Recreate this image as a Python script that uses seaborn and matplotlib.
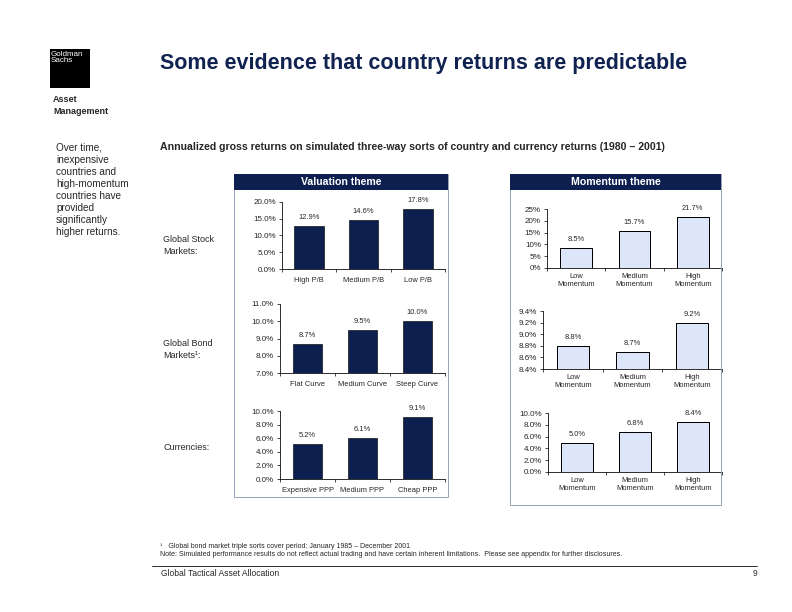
import matplotlib
matplotlib.use('Agg')
import matplotlib.pyplot as plt
import seaborn as sns
from matplotlib.patches import Rectangle
from matplotlib.lines import Line2D
from matplotlib.ticker import FuncFormatter

# data
val_stock_cats = ['High P/B', 'Medium P/B', 'Low P/B']
val_stock = [12.9, 14.6, 17.8]
val_bond_cats = ['Flat Curve', 'Medium Curve', 'Steep Curve']
val_bond = [8.7, 9.5, 10.0]
val_fx_cats = ['Expensive PPP', 'Medium PPP', 'Cheap PPP']
val_fx = [5.2, 6.1, 9.1]
mom_cats = ['Low\nMomentum', 'Medium\nMomentum', 'High\nMomentum']
mom_stock = [8.5, 15.7, 21.7]
mom_bond = [8.8, 8.7, 9.2]
mom_fx = [5.0, 6.8, 8.4]

side_lines = ['Over time,', 'inexpensive', 'countries and', 'high-momentum',
              'countries have', 'provided', 'significantly', 'higher returns.']

NAVY = '#0c1f4f'
LIGHT = '#dce6f8'
BORDER = '#9aa4bc'

sns.set_theme(style='white')
plt.rcParams['font.family'] = ['Liberation Sans', 'DejaVu Sans']

W, H = 792, 612
fig = plt.figure(figsize=(11, 8.5), dpi=72)


def fx(x):
    return x / W


def fy(y):
    return 1 - y / H


def px_axes(x0, y0, x1, y1):
    return fig.add_axes([fx(x0), fy(y1), fx(x1 - x0), (y1 - y0) / H])


def ftext(x, y, s, **kw):
    fig.text(fx(x), fy(y), s, **kw)


def bar_panel(box, cats, vals, ylim, yticks, fmt, color, lw, pad=8):
    ax = px_axes(*box)
    sns.barplot(x=cats, y=vals, ax=ax, color=color, width=0.54,
                edgecolor='black', linewidth=lw, saturation=1)
    ax.set_xlim(-0.5, 2.5)
    ax.set_ylim(*ylim)
    ax.set_yticks(yticks)
    ax.yaxis.set_major_formatter(FuncFormatter(lambda v, p: fmt.format(v)))
    ax.set_xticks([-0.5, 0.5, 1.5, 2.5], minor=True)
    ax.tick_params(axis='x', which='major', length=0, labelsize=7.5, pad=pad)
    ax.tick_params(axis='x', which='minor', length=3, width=0.7, color='black', direction='out')
    ax.tick_params(axis='y', length=3, width=0.7, color='black', direction='out', labelsize=8, pad=3)
    for t in ax.get_xticklabels():
        t.set_linespacing(1.25)
    ax.xaxis.set_ticks_position('bottom')
    ax.yaxis.set_ticks_position('left')
    for s in ['top', 'right']:
        ax.spines[s].set_visible(False)
    for s in ['left', 'bottom']:
        ax.spines[s].set_color('black')
        ax.spines[s].set_linewidth(0.8)
    ax.set_facecolor('none')
    for i, v in enumerate(vals):
        ax.annotate(f'{v:.1f}%', (i, v), xytext=(0, 5), textcoords='offset points',
                    ha='center', va='bottom', fontsize=7.5, annotation_clip=False)
    return ax


# logo
fig.add_artist(Rectangle((fx(50), fy(88)), fx(40), 39 / H, transform=fig.transFigure,
                         facecolor='black', edgecolor='none'))
ftext(51, 51, 'Goldman\nSachs', color='white', fontsize=8, va='top', ha='left', linespacing=0.9)
ftext(53, 100, 'Asset', fontsize=9, fontweight='bold', va='center')
ftext(53, 112, 'Management', fontsize=9, fontweight='bold', va='center')

# titles
ftext(160, 63, 'Some evidence that country returns are predictable', fontsize=21.5,
      fontweight='bold', color='#102250', va='center')
ftext(160, 147, 'Annualized gross returns on simulated three-way sorts of country and currency returns (1980 – 2001)',
      fontsize=10.5, fontweight='bold', va='center')

for k, line in enumerate(side_lines):
    ftext(56, 148 + 12 * k, line, fontsize=10, va='center')

# panels
for (x0, x1, y1, title) in [(234, 448, 497, 'Valuation theme'), (510, 721, 505, 'Momentum theme')]:
    fig.add_artist(Rectangle((fx(x0), fy(y1)), fx(x1 - x0), (y1 - 174) / H, transform=fig.transFigure,
                             facecolor='none', edgecolor=BORDER, linewidth=1))
    fig.add_artist(Rectangle((fx(x0), fy(190)), fx(x1 - x0), 16 / H, transform=fig.transFigure,
                             facecolor=NAVY, edgecolor='none'))
    ftext((x0 + x1) / 2, 182, title, color='white', fontsize=10.5, fontweight='bold',
          ha='center', va='center')

ftext(163, 240, 'Global Stock', fontsize=9, va='center')
ftext(163, 252, 'Markets:', fontsize=9, va='center')
ftext(163, 343, 'Global Bond', fontsize=9, va='center')
ftext(163, 355, 'Markets¹:', fontsize=9, va='center')
ftext(163, 447, 'Currencies:', fontsize=9, va='center')

bar_panel((282, 202, 445, 269), val_stock_cats, val_stock, (0, 20), [0, 5, 10, 15, 20], '{:.1f}%', NAVY, 0.6)
bar_panel((280, 304, 445, 373), val_bond_cats, val_bond, (7, 11), [7, 8, 9, 10, 11], '{:.1f}%', NAVY, 0.6)
bar_panel((280, 411, 445, 479), val_fx_cats, val_fx, (0, 10), [0, 2, 4, 6, 8, 10], '{:.1f}%', NAVY, 0.6)
bar_panel((547, 209, 722, 268), mom_cats, mom_stock, (0, 25), [0, 5, 10, 15, 20, 25], '{:.0f}%', LIGHT, 1.0, pad=5)
bar_panel((543, 311, 722, 369), mom_cats, mom_bond, (8.4, 9.4), [8.4, 8.6, 8.8, 9.0, 9.2, 9.4], '{:.1f}%', LIGHT, 1.0, pad=5)
bar_panel((548, 413, 722, 472), mom_cats, mom_fx, (0, 10), [0, 2, 4, 6, 8, 10], '{:.1f}%', LIGHT, 1.0, pad=5)

# footnotes
ftext(160, 546, '¹   Global bond market triple sorts cover period: January 1985 – December 2001', fontsize=7, va='center')
ftext(160, 555, 'Note: Simulated performance results do not reflect actual trading and have certain inherent limitations.  '
      'Please see appendix for further disclosures.', fontsize=7, va='center')
fig.add_artist(Line2D([fx(152), fx(757)], [fy(566), fy(566)], transform=fig.transFigure,
                      color='black', linewidth=0.8))
ftext(161, 573, 'Global Tactical Asset Allocation', fontsize=8.5, va='center')
ftext(757, 573, '9', fontsize=8.5, va='center', ha='right')

fig.savefig('out.png', dpi=72)
